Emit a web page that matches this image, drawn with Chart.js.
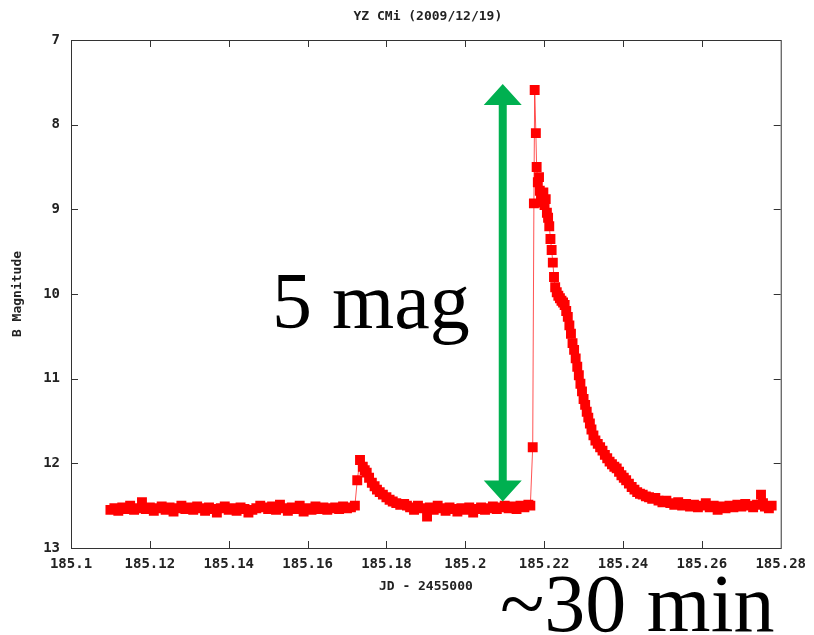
<!DOCTYPE html>
<html>
<head>
<meta charset="utf-8">
<script src="https://cdn.jsdelivr.net/npm/chart.js@4.4.1/dist/chart.umd.min.js"></script>
<style>
    html, body { margin: 0; padding: 0; background: #fff; }
    #lc { display: block; }
</style>
</head>
<body>
<canvas id="lc" width="814" height="635"></canvas>
<script>
// YZ CMi light curve, B band (2009/12/19)
const jd = [
    185.110, 185.111, 185.112, 185.113, 185.114, 185.115, 185.116, 185.117, 185.118, 185.119,
    185.120, 185.121, 185.122, 185.123, 185.124, 185.125, 185.126, 185.127, 185.128, 185.129,
    185.130, 185.131, 185.132, 185.133, 185.134, 185.135, 185.136, 185.137, 185.138, 185.139,
    185.140, 185.141, 185.142, 185.143, 185.144, 185.145, 185.146, 185.147, 185.148, 185.149,
    185.150, 185.151, 185.152, 185.153, 185.154, 185.155, 185.156, 185.157, 185.158, 185.159,
    185.160, 185.161, 185.162, 185.163, 185.164, 185.165, 185.166, 185.167, 185.168, 185.169,
    185.170, 185.171, 185.1720, 185.1726, 185.1733, 185.1740, 185.1745, 185.1750, 185.1756, 185.1763,
    185.1770, 185.1776, 185.1783, 185.1791, 185.1800, 185.1808, 185.1816, 185.1825, 185.1835, 185.1845,
    185.1852, 185.186, 185.187, 185.188, 185.189, 185.1903, 185.191, 185.192, 185.193, 185.194,
    185.195, 185.196, 185.197, 185.198, 185.199, 185.200, 185.201, 185.202, 185.203, 185.204,
    185.205, 185.206, 185.207, 185.208, 185.209, 185.210, 185.211, 185.212, 185.213, 185.214,
    185.215, 185.216, 185.2165, 185.2171, 185.2174, 185.2176, 185.2179, 185.2181, 185.2184, 185.2187,
    185.2189, 185.2192, 185.2195, 185.2198, 185.2201, 185.2204, 185.2207, 185.2210, 185.2213, 185.2216,
    185.2219, 185.2222, 185.2225, 185.2228, 185.2232, 185.2236, 185.2240, 185.2244, 185.2248, 185.2252,
    185.2256, 185.2260, 185.2264, 185.2268, 185.2272, 185.2276, 185.2280, 185.2284, 185.2288, 185.2292,
    185.2296, 185.2300, 185.2304, 185.2308, 185.2312, 185.2316, 185.2320, 185.2325, 185.2330, 185.2336,
    185.2342, 185.2348, 185.2354, 185.2360, 185.2366, 185.2372, 185.2378, 185.2384, 185.2390, 185.2396,
    185.2402, 185.2408, 185.2415, 185.2422, 185.2429, 185.2436, 185.2443, 185.2450, 185.2458, 185.2466,
    185.2474, 185.2482, 185.2490, 185.2500, 185.2510, 185.2520, 185.2530, 185.2540, 185.2550, 185.2560,
    185.2570, 185.2580, 185.2590, 185.2600, 185.2610, 185.2620, 185.2630, 185.2640, 185.2650, 185.2660,
    185.2670, 185.2680, 185.2690, 185.2700, 185.2710, 185.2720, 185.2730, 185.2740, 185.2750, 185.2755,
    185.2760, 185.2770, 185.2777
];
const bMag = [
    12.55, 12.53, 12.56, 12.52, 12.54, 12.50, 12.55, 12.53, 12.46, 12.54,
    12.52, 12.56, 12.53, 12.51, 12.55, 12.52, 12.57, 12.53, 12.50, 12.54,
    12.52, 12.55, 12.51, 12.53, 12.56, 12.52, 12.54, 12.58, 12.53, 12.51,
    12.55, 12.53, 12.56, 12.52, 12.54, 12.58, 12.55, 12.53, 12.50, 12.52,
    12.54, 12.51, 12.55, 12.49, 12.53, 12.56, 12.52, 12.54, 12.50, 12.57,
    12.53, 12.55, 12.51, 12.54, 12.52, 12.55, 12.53, 12.52, 12.54, 12.51,
    12.53, 12.52, 12.50, 12.20, 11.96, 12.04, 12.08, 12.11, 12.17, 12.23,
    12.27, 12.31, 12.34, 12.37, 12.40, 12.43, 12.45, 12.47, 12.49, 12.48,
    12.50, 12.52, 12.55, 12.50, 12.53, 12.63, 12.52, 12.55, 12.50, 12.53,
    12.56, 12.52, 12.54, 12.57, 12.53, 12.55, 12.52, 12.58, 12.54, 12.52,
    12.55, 12.53, 12.51, 12.54, 12.52, 12.50, 12.53, 12.51, 12.54, 12.50,
    12.52, 12.49, 12.50, 11.81, 8.93, 7.59, 8.10, 8.50, 8.68, 8.62,
    8.78, 8.85, 8.92, 8.80, 8.95, 8.88, 9.04, 9.10, 9.20, 9.35,
    9.48, 9.63, 9.80, 9.92, 9.98, 10.02, 10.05, 10.08, 10.10, 10.13,
    10.20, 10.27, 10.37, 10.47, 10.58, 10.66, 10.76, 10.86, 10.96, 11.06,
    11.15, 11.24, 11.31, 11.39, 11.46, 11.53, 11.60, 11.67, 11.73, 11.77,
    11.81, 11.85, 11.90, 11.94, 11.98, 12.01, 12.04, 12.06, 12.10, 12.14,
    12.17, 12.20, 12.24, 12.28, 12.31, 12.34, 12.36, 12.37, 12.39, 12.40,
    12.42, 12.41, 12.44, 12.46, 12.44, 12.47, 12.49, 12.46, 12.50, 12.48,
    12.51, 12.49, 12.52, 12.50, 12.47, 12.52, 12.50, 12.55, 12.51, 12.53,
    12.50, 12.52, 12.49, 12.51, 12.48, 12.50, 12.52, 12.49, 12.37, 12.47,
    12.51, 12.53, 12.50
];
const xTicks = [185.1, 185.12, 185.14, 185.16, 185.18, 185.2, 185.22, 185.24, 185.26, 185.28];
const yTicks = [7, 8, 9, 10, 11, 12, 13];

const chartTitle = 'YZ CMi (2009/12/19)';
const xTitle = 'JD - 2455000';
const yTitle = 'B Magnitude';
const ampLabel = '5 mag';
const durLabel = '~30 min';
const arrowFrom = 12.45;   // magnitude at the lower arrow tip
const arrowTo = 7.52;      // magnitude at the upper arrow tip
const arrowJd = 185.2095;

// gnuplot-like frame: box, inward ticks on all four sides, labels, annotation
const framePlugin = {
    id: 'frame',
    afterDatasetsDraw(chart) {
        const { ctx, chartArea: a, scales } = chart;
        const xs = scales.x, ys = scales.y;
        ctx.save();

        ctx.strokeStyle = '#333';
        ctx.lineWidth = 1;
        ctx.strokeRect(a.left + 0.5, a.top + 0.5, a.right - a.left, a.bottom - a.top);

        ctx.beginPath();
        xTicks.slice(1, -1).forEach(v => {
            const px = Math.round(xs.getPixelForValue(v)) + 0.5;
            ctx.moveTo(px, a.bottom); ctx.lineTo(px, a.bottom - 7);
            ctx.moveTo(px, a.top); ctx.lineTo(px, a.top + 7);
        });
        yTicks.slice(1, -1).forEach(v => {
            const py = Math.round(ys.getPixelForValue(v)) + 0.5;
            ctx.moveTo(a.left, py); ctx.lineTo(a.left + 7, py);
            ctx.moveTo(a.right, py); ctx.lineTo(a.right - 7, py);
        });
        ctx.stroke();

        // titles
        ctx.fillStyle = '#222';
        ctx.textAlign = 'center';
        ctx.textBaseline = 'middle';
        ctx.font = 'bold 13px "DejaVu Sans Mono", "Liberation Mono", monospace';
        ctx.fillText(chartTitle, (a.left + a.right) / 2 + 2, 17);
        ctx.fillText(xTitle, (a.left + a.right) / 2, 587);
        ctx.save();
        ctx.translate(18, (a.top + a.bottom) / 2);
        ctx.rotate(-Math.PI / 2);
        ctx.fillText(yTitle, 0, 0);
        ctx.restore();

        // green double arrow
        const ax = xs.getPixelForValue(arrowJd);
        const yBot = ys.getPixelForValue(arrowFrom);
        const yTop = ys.getPixelForValue(arrowTo);
        ctx.fillStyle = '#00b050';
        ctx.fillRect(ax - 4, yTop + 15, 8, yBot - yTop - 30);
        ctx.beginPath();
        ctx.moveTo(ax, yTop); ctx.lineTo(ax + 19, yTop + 21); ctx.lineTo(ax - 19, yTop + 21);
        ctx.closePath();
        ctx.moveTo(ax, yBot); ctx.lineTo(ax + 19, yBot - 21); ctx.lineTo(ax - 19, yBot - 21);
        ctx.closePath();
        ctx.fill();

        // annotations
        ctx.fillStyle = '#000';
        ctx.textAlign = 'left';
        ctx.textBaseline = 'alphabetic';
        ctx.font = '80px "Liberation Serif", "DejaVu Serif", serif';
        ctx.fillText(ampLabel, 272, 328);
        ctx.font = '82px "Liberation Serif", "DejaVu Serif", serif';
        ctx.fillText(durLabel, 500, 631);

        ctx.restore();
    }
};

const points = jd.map((x, i) => ({ x, y: bMag[i] }));

new Chart(document.getElementById('lc'), {
    type: 'line',
    data: {
        datasets: [{
            data: points,
            borderColor: 'rgba(255, 40, 40, 0.8)',
            borderWidth: 1,
            pointStyle: 'rect',
            pointRadius: 7,
            pointBackgroundColor: '#ff0000',
            pointBorderWidth: 0,
            tension: 0
        }]
    },
    options: {
        responsive: false,
        animation: false,
        events: [],
        layout: { padding: { top: 40, right: 33, left: 0, bottom: 0 } },
        plugins: { legend: { display: false }, tooltip: { enabled: false } },
        scales: {
            x: {
                type: 'linear',
                min: 185.1,
                max: 185.28,
                afterBuildTicks: s => { s.ticks = xTicks.map(value => ({ value })); },
                afterFit: s => { s.height = 87; },
                ticks: {
                    autoSkip: false,
                    maxRotation: 0,
                    padding: 8,
                    color: '#222',
                    font: { family: '"DejaVu Sans Mono", "Liberation Mono", monospace', size: 14, weight: 'bold' },
                    callback: v => String(+v.toFixed(2))
                },
                grid: { display: false, drawTicks: false },
                border: { display: false }
            },
            y: {
                reverse: true,
                min: 7,
                max: 13,
                afterBuildTicks: s => { s.ticks = yTicks.map(value => ({ value })); },
                afterFit: s => { s.width = 71; },
                ticks: {
                    padding: 11,
                    color: '#222',
                    font: { family: '"DejaVu Sans Mono", "Liberation Mono", monospace', size: 14, weight: 'bold' }
                },
                grid: { display: false, drawTicks: false },
                border: { display: false }
            }
        }
    },
    plugins: [framePlugin]
});
</script>
</body>
</html>
